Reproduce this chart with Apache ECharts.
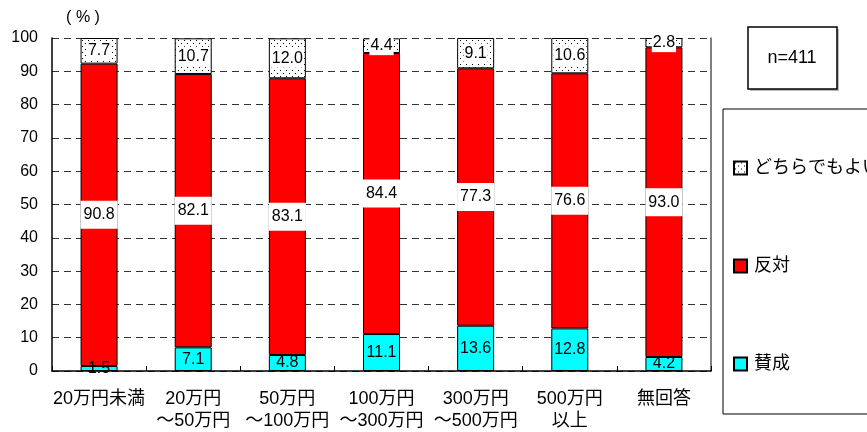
<!DOCTYPE html>
<html>
<head>
<meta charset="utf-8">
<script src="https://cdn.jsdelivr.net/npm/echarts@6/dist/echarts.min.js"></script>
<style>
  html, body { margin: 0; padding: 0; background: #fff; }
  #chart { width: 867px; height: 432px; }
</style>
</head>
<body>
<div id="chart"></div>
<script>
// Income bands and the share (%) of each answer
const categories = ['20万円未満', '20万円\n～50万円', '50万円\n～100万円', '100万円\n～300万円', '300万円\n～500万円', '500万円\n以上', '無回答'];
const approve = [1.5, 7.1, 4.8, 11.1, 13.6, 12.8, 4.2];
const oppose = [90.8, 82.1, 83.1, 84.4, 77.3, 76.6, 93.0];
const either = [7.7, 10.7, 12.0, 4.4, 9.1, 10.6, 2.8];
const yTicks = [0, 100, 10];
const sampleNote = 'n=411';
const unitNote = '( % )';

const FONT = '"Liberation Sans", Arial, "Noto Sans CJK JP", sans-serif';

// Dotted fill for the "どちらでもよい" segments
function dotPattern() {
  const c = document.createElement('canvas');
  c.width = 6; c.height = 6;
  const g = c.getContext('2d');
  g.fillStyle = '#ffffff';
  g.fillRect(0, 0, 6, 6);
  g.fillStyle = '#000000';
  g.fillRect(1, 1, 1, 1);
  g.fillRect(4, 4, 1, 1);
  return c;
}

const chart = echarts.init(document.getElementById('chart'), null, { renderer: 'canvas' });

const baseLabel = {
  show: true,
  position: 'inside',
  color: '#000',
  fontSize: 16,
  fontFamily: FONT,
  formatter: p => p.value.toFixed(1)
};

chart.setOption({
  animation: false,
  textStyle: { fontFamily: FONT },
  grid: { left: 52, right: 156, top: 38, bottom: 57 },
  xAxis: {
    type: 'category',
    data: categories,
    axisLine: { show: true, lineStyle: { color: '#000', width: 1.5 } },
    axisTick: { show: true, inside: true, length: 5, lineStyle: { color: '#000' } },
    axisLabel: { color: '#000', fontSize: 18, fontFamily: FONT, margin: 17, lineHeight: 22, interval: 0 }
  },
  yAxis: [{
    type: 'value',
    min: yTicks[0], max: yTicks[1], interval: yTicks[2],
    axisLine: { show: true, lineStyle: { color: '#000', width: 1.5 } },
    axisTick: { show: false },
    axisLabel: { color: '#000', fontSize: 16, fontFamily: FONT, margin: 14 },
    splitLine: { show: true, lineStyle: { color: '#333', type: [7, 5], width: 1 } }
  }, {
    type: 'value',
    position: 'right',
    min: yTicks[0], max: yTicks[1], interval: yTicks[2],
    axisLine: { show: true, lineStyle: { color: '#555', width: 1.5 } },
    axisTick: { show: false },
    axisLabel: { show: false },
    splitLine: { show: false }
  }],
  legend: {
    orient: 'vertical',
    left: 723,
    top: 109,
    padding: [50, 80, 41, 10],
    borderColor: '#000',
    borderWidth: 1,
    backgroundColor: '#fff',
    itemWidth: 13,
    itemHeight: 13,
    itemGap: 80,
    icon: 'rect',
    textStyle: { color: '#000', fontSize: 18, fontFamily: FONT, padding: [0, 0, 0, 2] },
    data: ['どちらでもよい', '反対', '賛成']
  },
  graphic: [
    {
      type: 'rect',
      shape: { x: 750, y: 29, width: 89, height: 62 },
      style: { fill: '#bbb', stroke: null },
      silent: true
    },
    {
      type: 'rect',
      shape: { x: 748, y: 27, width: 89, height: 62 },
      style: { fill: '#fff', stroke: '#000', lineWidth: 1.5 },
      silent: true
    },
    {
      type: 'text',
      x: 792, y: 58,
      style: { text: sampleNote, fill: '#000', font: '18px ' + FONT, textAlign: 'center', textVerticalAlign: 'middle' }
    },
    {
      type: 'text',
      x: 83, y: 18,
      style: { text: unitNote, fill: '#000', font: '16px ' + FONT, textAlign: 'center', textVerticalAlign: 'middle' }
    }
  ],
  series: [
    {
      name: '賛成',
      type: 'bar',
      stack: 'total',
      barWidth: 37,
      data: approve,
      itemStyle: { color: '#00FFFF', borderColor: '#000', borderWidth: 1 },
      label: baseLabel
    },
    {
      name: '反対',
      type: 'bar',
      stack: 'total',
      barWidth: 37,
      data: oppose,
      itemStyle: { color: '#FF0000', borderColor: '#000', borderWidth: 1 },
      label: Object.assign({}, baseLabel, { backgroundColor: '#fff', padding: [6, 3, 6, 3] })
    },
    {
      name: 'どちらでもよい',
      type: 'bar',
      stack: 'total',
      barWidth: 37,
      data: either,
      itemStyle: { color: { image: dotPattern(), repeat: 'repeat' }, borderColor: '#000', borderWidth: 1 },
      label: Object.assign({}, baseLabel, { backgroundColor: '#fff', padding: [2, 1, 1, 1] })
    }
  ]
});
</script>
</body>
</html>
